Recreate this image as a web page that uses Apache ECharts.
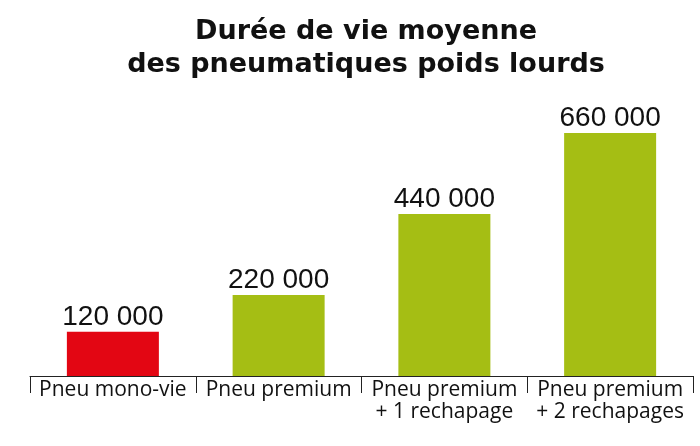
<!DOCTYPE html>
<html>
<head>
<meta charset="utf-8">
<script src="https://cdn.jsdelivr.net/npm/echarts@6/dist/echarts.min.js"></script>
<style>
    html, body { margin: 0; padding: 0; background: #fff; }
    #chart { width: 700px; height: 446px; }
</style>
</head>
<body>
<div id="chart"></div>
<script>
    // données
    var categories = ['Pneu mono-vie', 'Pneu premium', 'Pneu premium\n+ 1 rechapage', 'Pneu premium\n+ 2 rechapages'];
    var dureeKm = [120000, 220000, 440000, 660000];
    var barColors = ['#e30613', '#a5be14', '#a5be14', '#a5be14'];

    var chart = echarts.init(document.getElementById('chart'));
    chart.setOption({
        backgroundColor: '#fff',
        animation: false,
        title: {
            text: 'Durée de vie moyenne\ndes pneumatiques poids lourds',
            left: 361,
            top: 10,
            textAlign: 'center',
            textStyle: {
                fontFamily: 'DejaVu Sans',
                fontWeight: 'bold',
                fontSize: 27,
                lineHeight: 33,
                color: '#111'
            }
        },
        grid: {
            left: 30,
            right: 7,
            top: 133,
            bottom: 70
        },
        xAxis: {
            type: 'category',
            data: categories,
            boundaryGap: true,
            axisLine: { lineStyle: { color: '#222', width: 1 } },
            axisTick: { show: true, interval: 0, length: 17, lineStyle: { color: '#222' } },
            axisLabel: {
                interval: 0,
                margin: 3,
                fontFamily: 'Open Sans',
                fontSize: 21,
                lineHeight: 22,
                color: '#111'
            }
        },
        yAxis: {
            type: 'value',
            min: 0,
            max: 660000,
            show: false,
            splitLine: { show: false }
        },
        series: [{
            type: 'bar',
            data: dureeKm,
            barWidth: 92,
            itemStyle: {
                color: function (p) { return barColors[p.dataIndex]; }
            },
            label: {
                show: true,
                position: 'top',
                distance: 1,
                fontFamily: 'Liberation Sans',
                fontSize: 28,
                color: '#111',
                formatter: function (p) {
                    return String(p.value).replace(/\B(?=(\d{3})+(?!\d))/g, ' ');
                }
            }
        }]
    });
</script>
</body>
</html>
